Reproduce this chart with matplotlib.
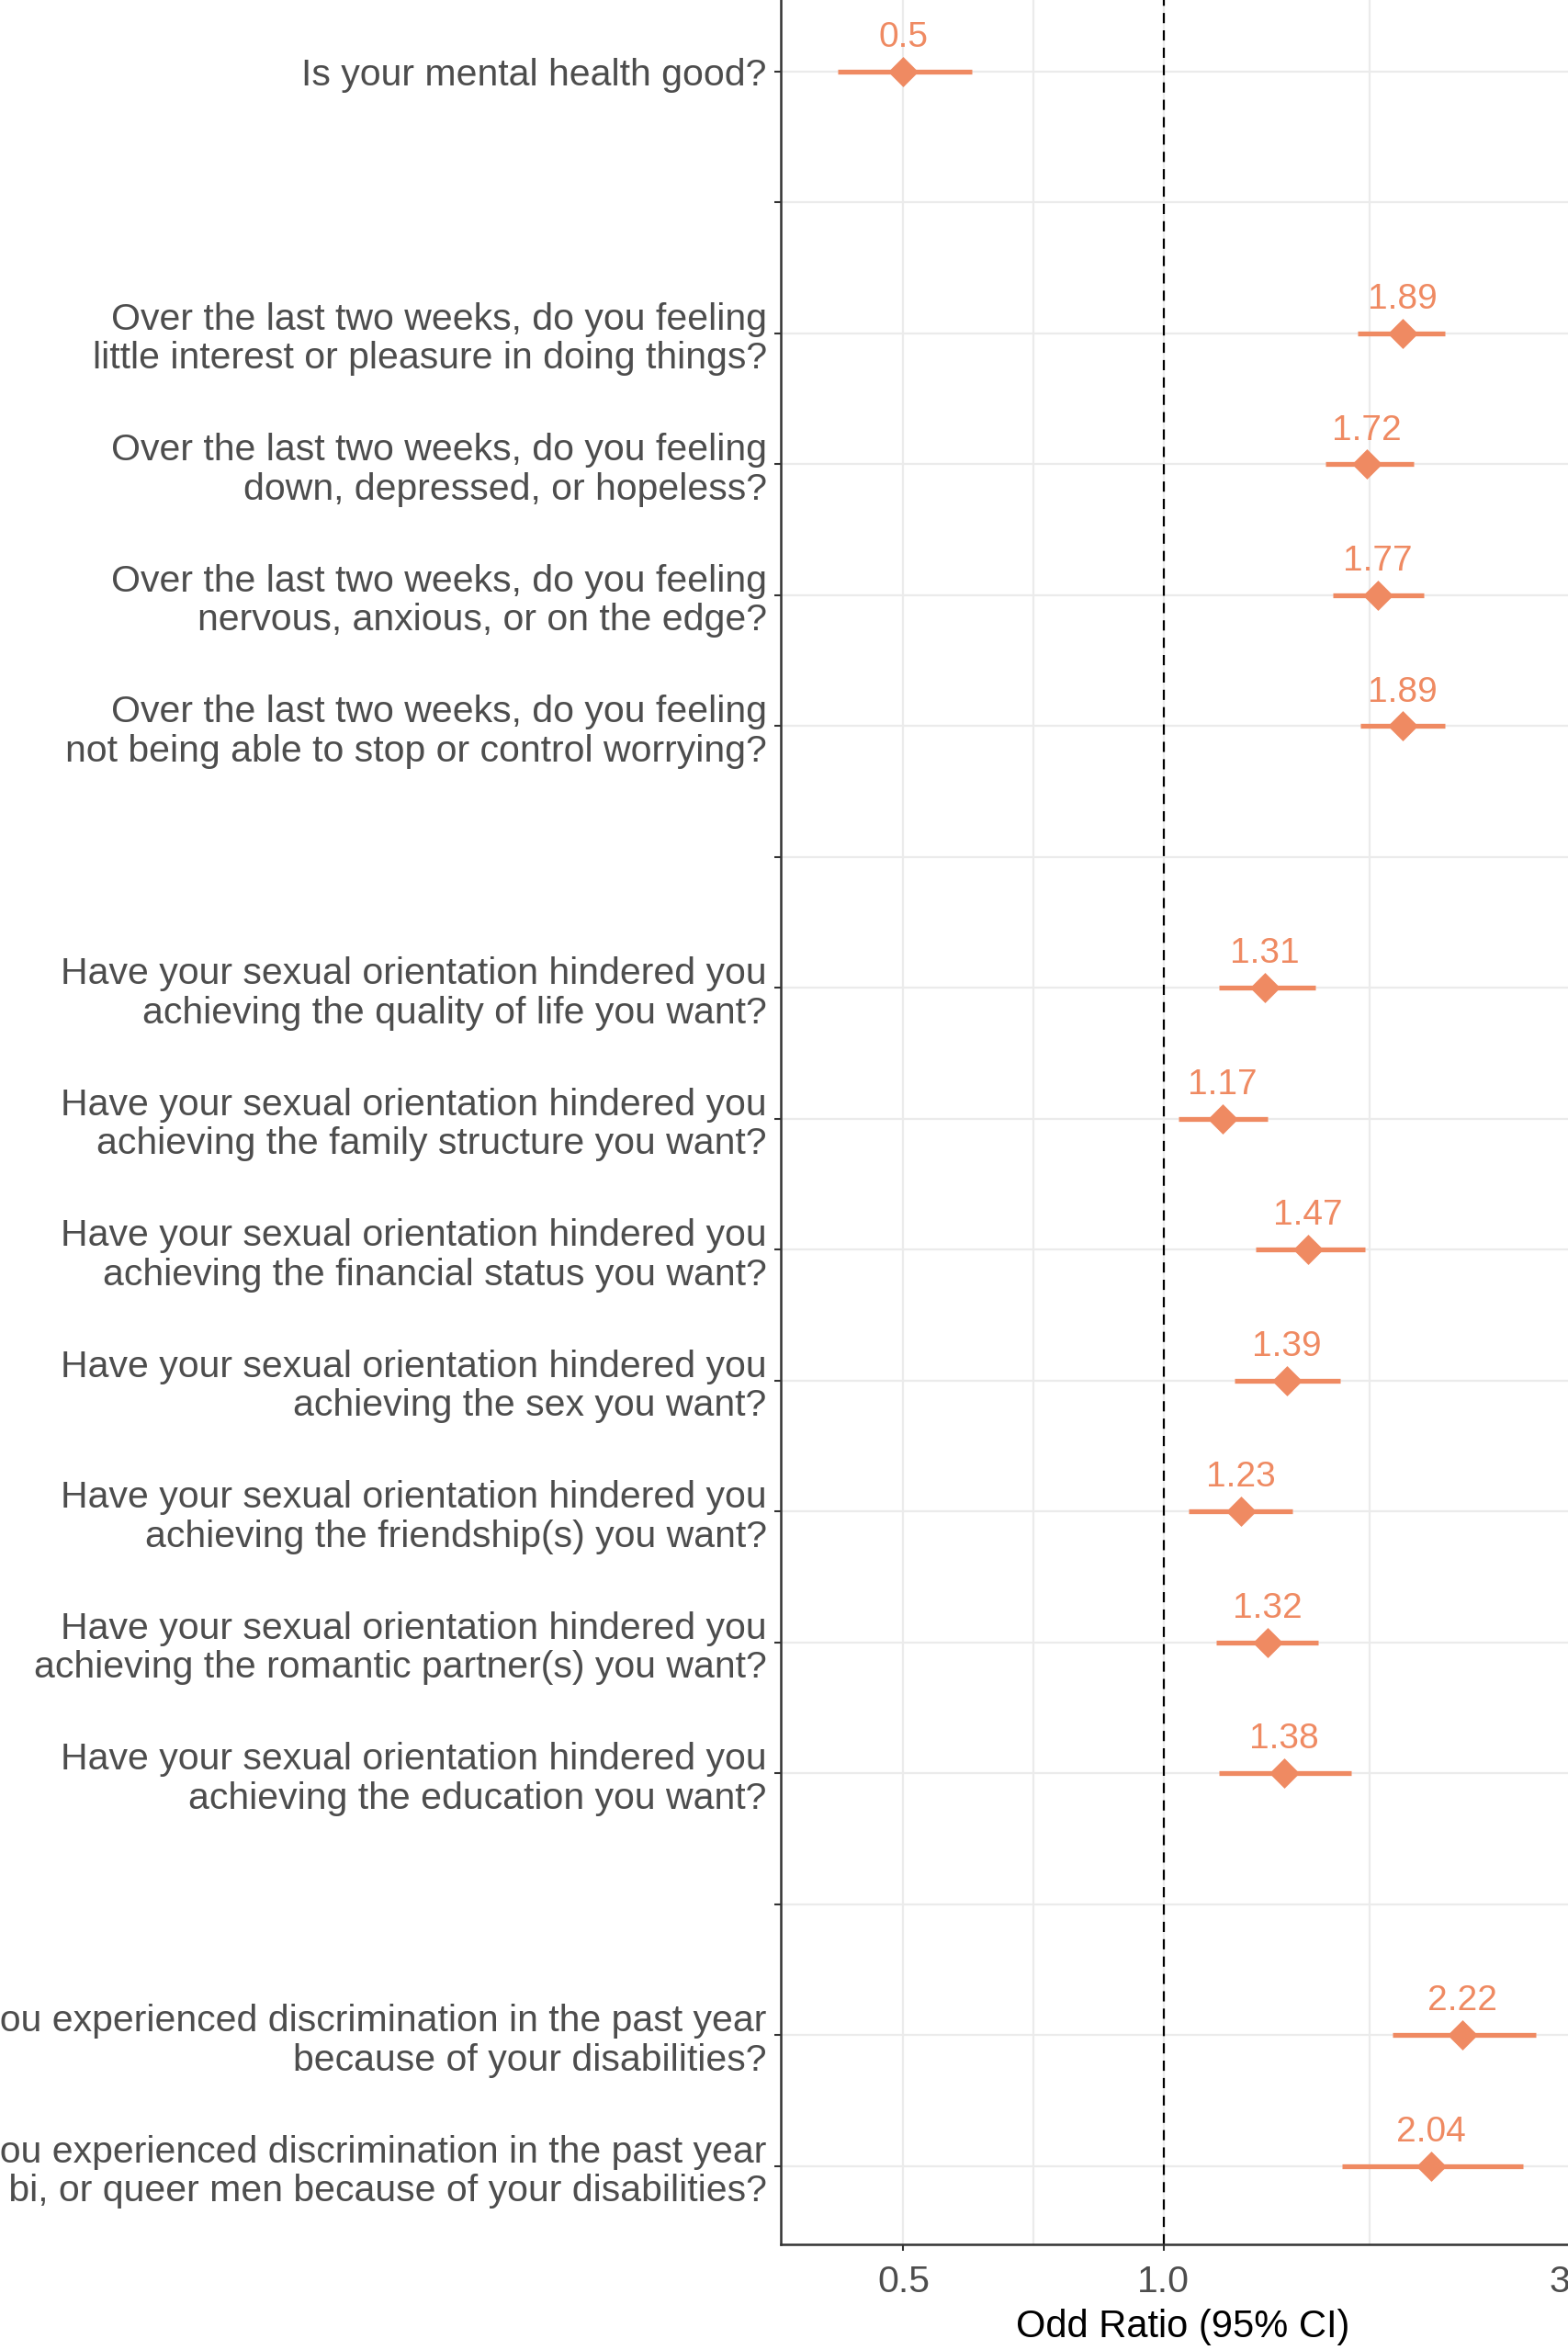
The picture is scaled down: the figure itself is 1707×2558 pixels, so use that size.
import numpy as np
import matplotlib.pyplot as plt

# questions (top to bottom); empty strings are the blank separator rows
questions = [
    "Is your mental health good?",
    "",
    "Over the last two weeks, do you feeling\nlittle interest or pleasure in doing things?",
    "Over the last two weeks, do you feeling\ndown, depressed, or hopeless?",
    "Over the last two weeks, do you feeling\nnervous, anxious, or on the edge?",
    "Over the last two weeks, do you feeling\nnot being able to stop or control worrying?",
    "",
    "Have your sexual orientation hindered you\nachieving the quality of life you want?",
    "Have your sexual orientation hindered you\nachieving the family structure you want?",
    "Have your sexual orientation hindered you\nachieving the financial status you want?",
    "Have your sexual orientation hindered you\nachieving the sex you want?",
    "Have your sexual orientation hindered you\nachieving the friendship(s) you want?",
    "Have your sexual orientation hindered you\nachieving the romantic partner(s) you want?",
    "Have your sexual orientation hindered you\nachieving the education you want?",
    "",
    "Have you experienced discrimination in the past year\nbecause of your disabilities?",
    "Have you experienced discrimination in the past year\nfrom other gay, bi, or queer men because of your disabilities?",
]

# odds ratios and 95% CI (None for blank rows)
odds = [0.5, None, 1.89, 1.72, 1.77, 1.89, None,
        1.31, 1.17, 1.47, 1.39, 1.23, 1.32, 1.38, None, 2.22, 2.04]
ci_low = [0.42, None, 1.68, 1.54, 1.57, 1.69, None,
          1.16, 1.04, 1.28, 1.21, 1.07, 1.15, 1.16, None, 1.84, 1.61]
ci_high = [0.60, None, 2.12, 1.95, 2.00, 2.12, None,
           1.50, 1.32, 1.71, 1.60, 1.41, 1.51, 1.65, None, 2.70, 2.61]

x_breaks = [0.5, 1.0, 3]
x_labels = ["0.5", "1.0", "3.0"]

col = "#EF8A62"
plt.rcParams['font.family'] = ['Liberation Sans', 'DejaVu Sans']

W, H = 1707, 2558
fig = plt.figure(figsize=(W / 100, H / 100), dpi=100)
left, right = 850, 1726
bottom, top = 2443, -7.5
ax = fig.add_axes([left / W, (H - bottom) / H, (right - left) / W, (bottom - top) / H])

ypos = np.arange(len(questions))
ax.set_xscale("log")
ax.set_xlim(0.3606, 3.08)
ax.set_ylim(len(questions) - 0.4, -0.6)

# grid
for y in ypos:
    ax.axhline(y, color="#EBEBEB", lw=1.6, zorder=0)
for xv in [0.5, np.sqrt(0.5), 1.0, np.sqrt(3)]:
    ax.axvline(xv, color="#EBEBEB", lw=1.6, zorder=0)
ax.axvline(1.0, color="black", lw=1.6, ls=(0, (5, 3.5)), zorder=1)

for y, o, lo, hi in zip(ypos, odds, ci_low, ci_high):
    if o is None:
        continue
    ax.plot([lo, hi], [y, y], color=col, lw=3.8, solid_capstyle="butt", zorder=2)
    ax.plot(o, y, marker="D", ms=14.5, color=col, mec=col, mew=2.5,
            solid_joinstyle="round", zorder=3)
    ax.annotate(f"{o:g}", (o, y), xytext=(0, 26.5), textcoords="offset points",
                ha="center", va="center", color=col, fontsize=28)

ax.set_yticks(ypos)
ax.set_yticklabels(questions, fontsize=29.5, color="#4D4D4D", linespacing=1.15)
ax.set_xticks(x_breaks)
ax.set_xticklabels(x_labels, fontsize=29.5, color="#4D4D4D")
ax.xaxis.set_minor_locator(plt.NullLocator())
ax.xaxis.set_minor_formatter(plt.NullFormatter())
ax.tick_params(axis="both", length=5, width=1.5, color="#333333", pad=6)
ax.tick_params(axis="x", pad=11)
ax.set_xlabel("Odd Ratio (95% CI)", fontsize=30, labelpad=7)

for s in ["top", "right"]:
    ax.spines[s].set_visible(False)
for s in ["left", "bottom"]:
    ax.spines[s].set_color("#333333")
    ax.spines[s].set_linewidth(1.8)

fig.savefig("out.png", dpi=100)
